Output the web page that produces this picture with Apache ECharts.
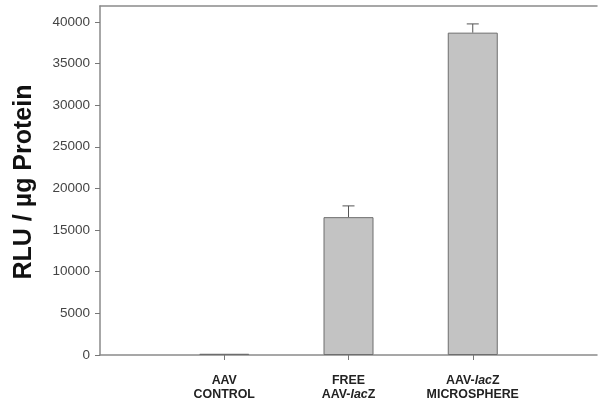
<!DOCTYPE html>
<html><head><meta charset="utf-8">
<script src="https://cdn.jsdelivr.net/npm/echarts@6/dist/echarts.min.js"></script>
<style>html,body{margin:0;padding:0;background:#fff}#c{width:598px;height:405px}</style>
</head><body><div id="c"></div>
<script>
const categories = ['AAV\nCONTROL', 'FREE\nAAV-lacZ', 'AAV-lacZ\nMICROSPHERE'];
const positions = [1, 2, 3];
const means = [150, 16550, 38700];
const errors = [0, 1350, 1050];
const yTicks = [0, 5000, 10000, 15000, 20000, 25000, 30000, 35000, 40000];

const labelRich = {
  b: {fontFamily: 'Liberation Sans', fontWeight: 'bold', fontSize: 12.4, color: '#222', lineHeight: 13.5},
  bi: {fontFamily: 'Liberation Sans', fontWeight: 'bold', fontStyle: 'italic', fontSize: 12.4, color: '#222', lineHeight: 13.5}
};
function fmtCat(v) {
  const i = positions.indexOf(v);
  if (i < 0) return '';
  return categories[i].split('\n').map(line => {
    if (line.indexOf('lacZ') >= 0) {
      const parts = line.split('lacZ');
      return '{b|' + parts[0] + '}{bi|lac}{b|Z' + parts[1] + '}';
    }
    return '{b|' + line + '}';
  }).join('\n');
}

const chart = echarts.init(document.getElementById('c'), null, {renderer: 'canvas'});
chart.setOption({
  animation: false,
  grid: {left: 100, right: 1, top: 6, bottom: 50},
  xAxis: [{
    type: 'value', min: 0, max: 4, interval: 1,
    axisLine: {show: true, lineStyle: {color: '#8a8a8a', width: 1.5}},
    axisTick: {show: true, length: 5, lineStyle: {color: '#777'},
      customValues: positions},
    axisLabel: {customValues: positions, formatter: fmtCat, rich: labelRich, margin: 19},
    splitLine: {show: false}
  }, {
    type: 'value', position: 'top', min: 0, max: 4,
    axisLine: {show: true, lineStyle: {color: '#8a8a8a', width: 1.5}},
    axisTick: {show: false}, axisLabel: {show: false}, splitLine: {show: false}
  }],
  yAxis: {
    type: 'value', min: 0, max: 41900, interval: 5000,
    axisLine: {show: true, lineStyle: {color: '#8a8a8a', width: 1.5}},
    axisTick: {show: true, inside: false, length: 5, lineStyle: {color: '#777'}, customValues: yTicks},
    axisLabel: {customValues: yTicks, formatter: v => String(v), fontFamily: 'Liberation Sans', fontSize: 13.5, color: '#444', margin: 10},
    splitLine: {show: false}
  },
  graphic: [{
    type: 'text', id: 'yt', rotation: Math.PI / 2, x: 12, y: 182,
    style: {text: 'RLU / \u00b5g Protein', fontFamily: 'Liberation Sans', fontWeight: 'bold', fontSize: 25, fill: '#111', align: 'center', verticalAlign: 'top'}
  }],
  series: [{
    type: 'bar', barWidth: 50,
    data: positions.map((p, i) => [p, means[i]]),
    itemStyle: {color: '#c3c3c3', borderColor: '#6e6e6e', borderWidth: 1}
  }, {
    type: 'custom',
    data: positions.map((p, i) => [p, means[i], means[i] + errors[i]]),
    renderItem: function (params, api) {
      if (api.value(2) <= api.value(1)) return null;
      const a = api.coord([api.value(0), api.value(1)]);
      const b = api.coord([api.value(0), api.value(2)]);
      const s = {stroke: '#555', lineWidth: 1};
      return {type: 'group', children: [
        {type: 'line', shape: {x1: a[0], y1: a[1], x2: b[0], y2: b[1]}, style: s},
        {type: 'line', shape: {x1: b[0] - 6, y1: b[1], x2: b[0] + 6, y2: b[1]}, style: s}
      ]};
    },
    z: 3
  }]
});
</script></body></html>
